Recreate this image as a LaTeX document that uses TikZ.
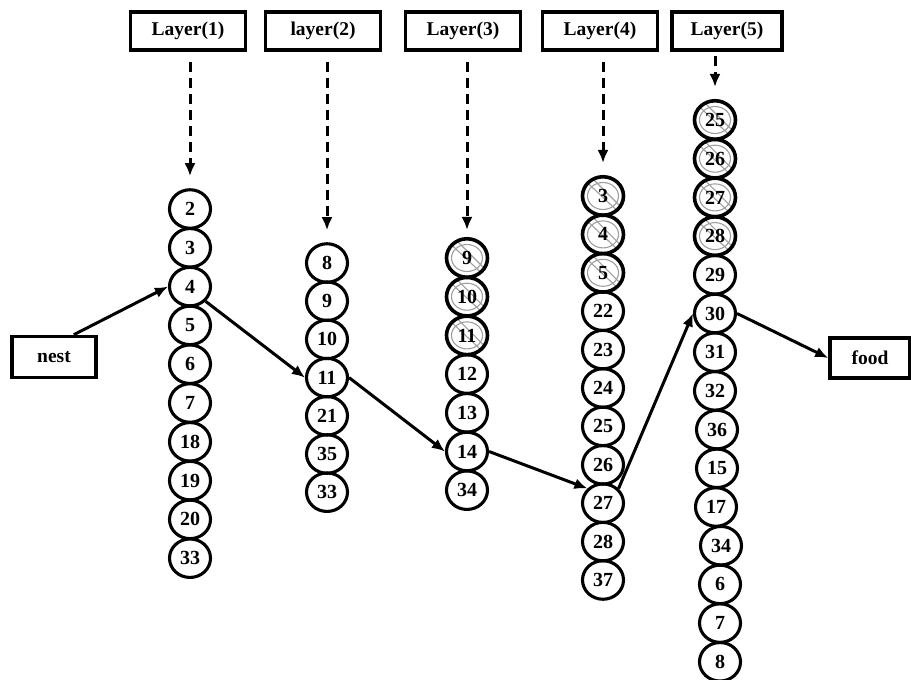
\documentclass[tikz,border=0pt]{standalone}
\usepackage{fontspec}
\setmainfont{Liberation Serif}
\usetikzlibrary{shapes.geometric,arrows.meta,calc}
\begin{document}
\begin{tikzpicture}[x=1pt,y=-1pt,
  txt/.style={font=\fontsize{19.5}{19.5}\selectfont\bfseries},
  cnode/.style={ellipse, draw, line width=3.1pt, minimum width=41pt, minimum height=38.5pt, inner sep=0pt, txt, font=\fontsize{20}{20}\selectfont\bfseries},
  xnode/.style={cnode, line width=3.6pt, path picture={
      \draw[gray!75, line width=1.1pt] (path picture bounding box.center) ellipse [x radius=15.5, y radius=13.5];
      \draw[gray!75, line width=1.1pt] ($(path picture bounding box.center)+(-25,-22)$) -- ($(path picture bounding box.center)+(22,22)$);
      \draw[gray!75, line width=1.1pt] ($(path picture bounding box.center)+(-19,-26)$) -- ($(path picture bounding box.center)+(26,19)$);
    }},
  lbox/.style={rectangle, draw, line width=3.6pt, minimum width=115pt, minimum height=38pt, inner sep=0pt, txt},
  ebox/.style={rectangle, draw, line width=3.6pt, minimum height=41pt, inner sep=0pt, txt},
  arr/.style={-{Latex[length=13pt,width=11pt]}, line width=3pt},
  darr/.style={arr, dash pattern=on 10pt off 6pt, shorten <=10pt, shorten >=12pt}]
\useasboundingbox (0,0) rectangle (911,680);

% layer boxes
\node[lbox] (L1) at (188,31) {Layer(1)};
\node[lbox] (L2) at (323,31) {layer(2)};
\node[lbox] (L3) at (463,31) {Layer(3)};
\node[lbox] (L4) at (600,31) {Layer(4)};
\node[lbox, minimum width=110pt] (L5) at (727,31) {Layer(5)};

% end boxes
\node[ebox, minimum width=84pt] (nest) at (54,357) {nest};
\node[ebox, minimum width=80pt, minimum height=40pt] (food) at (870,358) {food};

% column 1
\foreach \t [count=\i] in {2,3,4,5,6,7,18,19,20,33}
  \node[cnode] (a\t) at (190,{209+38.8*(\i-1)}) {\t};
% column 2
\foreach \t [count=\i] in {8,9,10,11,21,35,33}
  \node[cnode] (b\t) at (327,{263+38.2*(\i-1)}) {\t};
% column 3
\foreach \t [count=\i] in {9,10,11}
  \node[xnode] (c\t) at (467,{258+38.7*(\i-1)}) {\t};
\foreach \t [count=\i from 4] in {12,13,14,34}
  \node[cnode] (c\t) at (467,{258+38.7*(\i-1)}) {\t};
% column 4
\foreach \t [count=\i] in {3,4,5}
  \node[xnode] (d\t) at (603,{196+38.4*(\i-1)}) {\t};
\foreach \t [count=\i from 4] in {22,23,24,25,26,27,28,37}
  \node[cnode] (d\t) at (603,{196+38.4*(\i-1)}) {\t};
% column 5
\foreach \t [count=\i] in {25,26,27,28}
  \node[xnode] (e\t) at (715,{120+38.7*(\i-1)}) {\t};
\foreach \t/\x [count=\i from 5] in {29/715,30/715,31/715,32/715,36/717,15/717,17/716,34/721,6/720,7/720,8/720}
  \node[cnode] (e\t) at (\x,{120+38.7*(\i-1)}) {\t};

% dashed arrows
\draw[darr] (L1.south -| a2) -- (a2.north);
\draw[darr] (L2.south -| b8) -- (b8.north);
\draw[darr, shorten >=7pt] (L3.south -| c9) -- (c9.north);
\draw[darr] (L4.south -| d3) -- (d3.north);
\draw[darr, shorten <=4pt] (L5.south -| e25) -- (e25.north);

% path
\draw[arr] ($(nest.north east)+(-24,0)$) -- (a4.west);
\draw[arr] (a4.south east) -- (b11.west);
\draw[arr] (b11.east) -- (c14.west);
\draw[arr] (c14.east) -- (d27.north west);
\draw[arr] (d27.north east) -- (e30.west);
\draw[arr] (e30.east) -- (food.west);
\end{tikzpicture}
\end{document}
